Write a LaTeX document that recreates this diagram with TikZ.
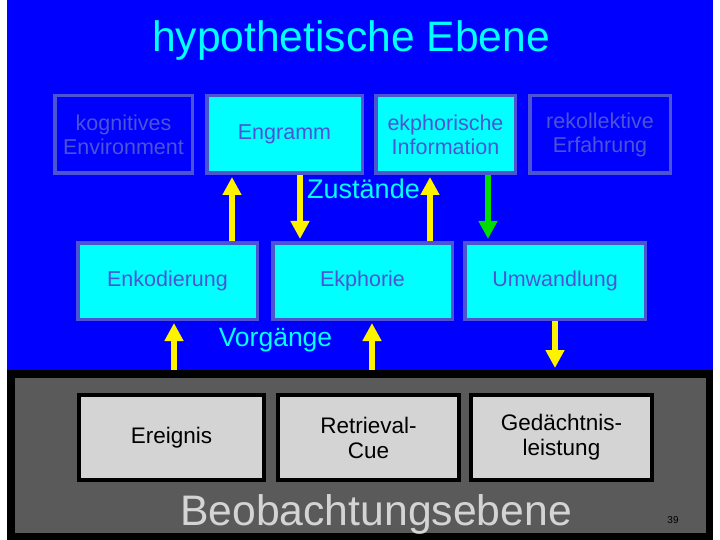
\documentclass[tikz,border=0pt]{standalone}
\usepackage{fontspec}
\setmainfont{Liberation Sans}
\usetikzlibrary{arrows.meta,positioning}

\definecolor{slideblue}{RGB}{0,0,255}
\definecolor{boxcyan}{RGB}{0,255,255}
\definecolor{slate}{RGB}{76,84,212}
\definecolor{panelgray}{RGB}{90,90,90}
\definecolor{cuegray}{RGB}{212,212,212}
\definecolor{arrowgreen}{RGB}{0,220,0}

\begin{document}
\begin{tikzpicture}[x=1pt, y=-1pt,
    state/.style={rectangle, draw=slate, line width=3.5pt, minimum height=77.5pt, align=center,
        text=slate, font=\fontsize{21.5}{24}\selectfont},
    hidden/.style={state, fill=slideblue},
    active/.style={state, fill=boxcyan},
    observed/.style={rectangle, draw=black, line width=4pt, fill=cuegray, minimum height=85pt,
        align=center, font=\fontsize{22.5}{25}\selectfont},
    arrow/.style={-{Triangle[width=18pt,length=18pt]}, line width=6pt, draw=yellow, shorten >=2pt},
    level/.style={anchor=base, text=boxcyan}
]
    \useasboundingbox (0,0) rectangle (720,540);
    \fill[white] (0,0) rectangle (720,540);
    \fill[slideblue] (7,0) rectangle (713,370);
    \node[rectangle, draw=black, line width=7.5pt, fill=panelgray, minimum width=698.5pt,
        minimum height=162.5pt] (panel) at (360,455) {};

    \node[level, font=\fontsize{42.6}{46}\selectfont] (title) at (351,52) {hypothetische Ebene};

    % Zustaende
    \node[hidden, minimum width=137.5pt] (kogenv) at (123.5,134.5) {kognitives\\Environment};
    \node[active, minimum width=155.5pt] (engramm) at (284.5,134.5) {Engramm};
    \node[active, minimum width=139.5pt] (ekphinfo) at (445.5,134.5) {ekphorische\\Information};
    \node[hidden, minimum width=140.5pt] (rekoll) at (600,134.5) {rekollektive\\Erfahrung};
    \node[level, font=\fontsize{27}{30}\selectfont] (zustaende) at (363.5,199) {Zustände};

    % Vorgaenge
    \node[active, minimum width=179.5pt, minimum height=76.5pt] (enkod) at (167.5,281) {Enkodierung};
    \node[active, minimum width=179.5pt, minimum height=76.5pt] (ekphorie) at (362.5,281) {Ekphorie};
    \node[active, minimum width=180.5pt, minimum height=76.5pt] (umwandl) at (555,281) {Umwandlung};
    \node[level, font=\fontsize{26.5}{30}\selectfont] (vorgaenge) at (275.5,346) {Vorgänge};

    % Beobachtung
    \node[observed, minimum width=185pt] (ereignis) at (171.5,437.5) {Ereignis};
    \node[observed, minimum width=181pt] (retrieval) at (368.5,437.5) {Retrieval-\\Cue};
    \node[observed, minimum width=181pt] (leistung) at (561.5,437.5) {Gedächtnis-\\leistung};
    \node[anchor=base, text=cuegray, font=\fontsize{42.7}{46}\selectfont] (beob) at (376,525) {Beobachtungsebene};
    \node[anchor=base, font=\fontsize{10}{12}\selectfont] (pagenum) at (673,523) {39};

    \draw[arrow] (enkod.north -| 232,0) -- (engramm.south -| 232,0);
    \draw[arrow] (engramm.south -| 300,0) -- (ekphorie.north -| 300,0);
    \draw[arrow] (ekphorie.north -| 430,0) -- (ekphinfo.south -| 430,0);
    \draw[arrow, draw=arrowgreen] (ekphinfo.south -| 488,0) -- (umwandl.north -| 488,0);
    \draw[arrow] (panel.north -| 174,0) -- (enkod.south -| 174,0);
    \draw[arrow] (panel.north -| 372,0) -- (ekphorie.south -| 372,0);
    \draw[arrow] (umwandl.south -| 555,0) -- (panel.north -| 555,0);
\end{tikzpicture}
\end{document}
